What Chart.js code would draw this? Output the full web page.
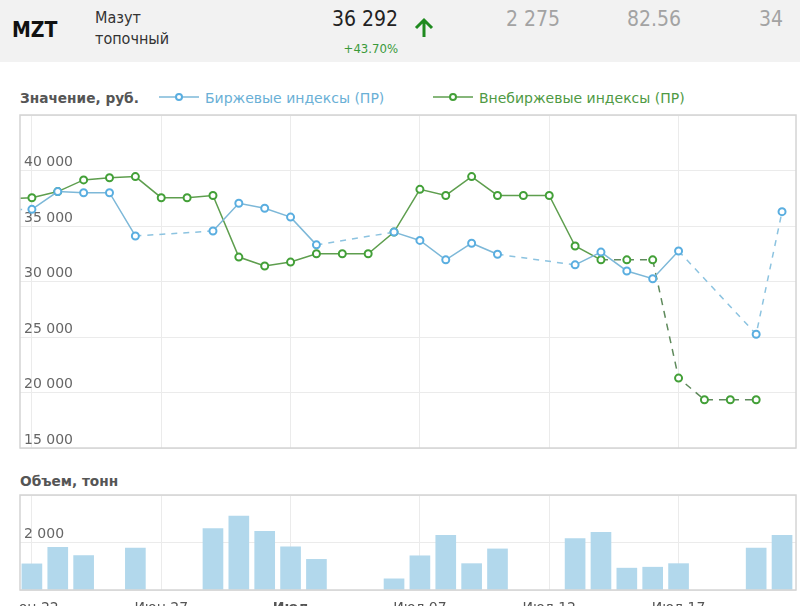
<!DOCTYPE html>
<html lang="ru">
<head>
<meta charset="utf-8">
<title>MZT – Мазут топочный</title>
<script src="https://cdn.jsdelivr.net/npm/chart.js@4.4.1/dist/chart.umd.min.js"></script>
<style>
  html, body { margin: 0; padding: 0; }
  body { width: 800px; height: 606px; overflow: hidden; position: relative; background: #fff;
         font-family: "DejaVu Sans", Verdana, sans-serif; }
  .head { position: absolute; left: 0; top: 0; width: 800px; height: 62px; background: #f2f2f2; }
  .head div { position: absolute; white-space: nowrap; font-family: "Liberation Sans Narrow", "DejaVu Sans Condensed", Roboto, sans-serif; }
  .ticker { left: 12px; top: 20px; font-size: 21px; line-height: 1; font-weight: bold; color: #111; }
  .name { left: 95px; top: 7px; font-size: 16px; line-height: 21px; color: #333; }
  .price { right: 402px; top: 9px; font-size: 21px; line-height: 1; color: #222; }
  .chg { right: 402px; top: 42px; font-size: 13px; line-height: 1; color: #3a9a3a; }
  .arrow { left: 413px; top: 17px; }
  .grey { top: 9px; font-size: 21px; line-height: 1; color: #a3a3a3; }
  .label { position: absolute; white-space: nowrap; line-height: 1; }
  .ttl { font-size: 13.7px; font-weight: bold; color: #555; }
  .leg { font-size: 14px; }
  .leg svg { vertical-align: middle; margin-right: 6px; position: relative; top: -2px; }
  .box { position: absolute; }
</style>
</head>
<body>

<div class="head">
  <div class="ticker">MZT</div>
  <div class="name">Мазут<br>топочный</div>
  <div class="price">36 292</div>
  <div class="chg">+43.70%</div>
  <div class="arrow">
    <svg width="22" height="21" viewBox="0 0 22 21">
      <path d="M11 20 V3 M3 11 L11 3 L19 11" fill="none" stroke="#1f8a1f" stroke-width="3"/>
    </svg>
  </div>
  <div class="grey" style="right:240px">2 275</div>
  <div class="grey" style="right:119px">82.56</div>
  <div class="grey" style="right:17px">34</div>
</div>

<div class="label ttl" style="left:20px; top:92px">Значение, руб.</div>
<div class="label leg" style="left:159px; top:91px; color:#6ab0d6">
  <svg width="40" height="10"><line x1="0" y1="5" x2="40" y2="5" stroke="#7db8d8" stroke-width="1.5"/><circle cx="20" cy="5" r="3" fill="#fff" stroke="#5aaee0" stroke-width="2"/></svg>Биржевые индексы (ПР)
</div>
<div class="label leg" style="left:433px; top:91px; color:#4f9a44">
  <svg width="40" height="10"><line x1="0" y1="5" x2="40" y2="5" stroke="#5e9e4e" stroke-width="1.5"/><circle cx="20" cy="5" r="3" fill="#fff" stroke="#43a038" stroke-width="2"/></svg>Внебиржевые индексы (ПР)
</div>

<div class="box" style="left:19px; top:114px; width:778px; height:335px"><canvas id="chart-price"></canvas></div>

<div class="label ttl" style="left:20px; top:475px">Объем, тонн</div>
<div class="box" style="left:19px; top:494px; width:778px; height:126px"><canvas id="chart-volume"></canvas></div>

<script>
/* ---- Données ---- */
const days = [-2, -1, 0, 1, 2, 3, 4, 5, 6, 7, 8, 9, 10, 11, 12, 13, 14, 15,
              16, 17, 18, 19, 20, 21, 22, 23, 24, 25, 26, 27, 28, 29];

const birzha = [36400, null, 36500, 38100, 38000, 38000, 34100, null, null, 34550,
                37050, 36600, 35800, 33300, null, null, 34450, 33700, 31950, 33450,
                32450, null, null, 31500, 32650, 30950, 30250, 32750, null, null,
                25250, 36292];

const vnebirzha = [null, 37450, 37550, 38100, 39150, 39350, 39450, 37550, 37550, 37750,
                   32200, 31400, 31750, 32500, 32500, 32500, 34450, 38300, 37750, 39450,
                   37750, 37750, 37750, 33200, 31950, 31950, 31950, 21300, 19350, 19350,
                   19350, null];

const volume = [null, null, 1100, 1800, 1450, null, 1770, null, null, 2590,
                3110, 2470, 1820, 1290, null, null, 470, 1440, 2300, 1110,
                1730, null, null, 2160, 2430, 920, 960, 1110, null, null,
                1770, 2300];

// segments en pointillés (jour de départ), en plus des trous de données
const birzhaDash    = [28];
const vnebirzhaDash = [22, 23, 24, 25, 26, 27];

const tickDays   = [0, 5, 10, 15, 20, 25];
const tickLabels = ['Июн 22', 'Июн 27', 'Июл', 'Июл 07', 'Июл 12', 'Июл 17'];

const X_MIN = -0.46, X_MAX = 29.54;

/* ---- Helpers ---- */
const fmt = v => String(v).replace(/\B(?=(\d{3})+(?!\d))/g, ' ');
const pts = arr => days.map((d, i) => ({ x: d, y: arr[i] })).filter(p => p.y !== null);

function isDashed(list) {
  return ctx => {
    const data = ctx.chart.data.datasets[ctx.datasetIndex].data;
    const a = data[ctx.p0DataIndex], b = data[ctx.p1DataIndex];
    return b.x - a.x > 1 || list.includes(a.x);
  };
}

function noPadding(scale) {
  scale.paddingLeft = 0; scale.paddingRight = 0;
  scale.paddingTop = 0;  scale.paddingBottom = 0;
}

const boxPlugin = {
  id: 'plotBox',
  afterDatasetsDraw(chart) {
    const { ctx, chartArea: a } = chart;
    ctx.save();
    ctx.strokeStyle = '#d4d4d4';
    ctx.lineWidth = 1.5;
    ctx.strokeRect(a.left, a.top, a.right - a.left, a.bottom - a.top);
    ctx.restore();
  },
};

const gridColor = '#ebebeb';
const tickFont  = { family: '"DejaVu Sans", Verdana, sans-serif', size: 14 };

function xScale(showLabels) {
  return {
    type: 'linear',
    min: X_MIN,
    max: X_MAX,
    offset: false,
    afterBuildTicks: s => { s.ticks = tickDays.map(v => ({ value: v })); },
    afterFit: s => { noPadding(s); s.height = showLabels ? 30 : 0; },
    grid: { color: gridColor, drawTicks: false, offset: false },
    border: { display: false },
    ticks: {
      display: showLabels,
      padding: 10,
      color: '#555',
      maxRotation: 0,
      autoSkip: false,
      font: ctx => ({ ...tickFont, weight: tickDays[ctx.index] === 10 ? 'bold' : 'normal' }),
      callback: v => tickLabels[tickDays.indexOf(v)] ?? '',
    },
  };
}

function yScale(max, step) {
  return {
    min: 0,
    max,
    afterFit: s => { noPadding(s); s.width = 0; },
    grid: { color: gridColor, drawTicks: false },
    border: { display: false },
    ticks: {
      stepSize: step,
      mirror: true,
      padding: 4,
      labelOffset: -8,
      color: '#666',
      font: tickFont,
      callback: v => (v === max ? '' : fmt(v)),
    },
  };
}

function lineDataset(label, values, dashList, c) {
  const dashed = isDashed(dashList);
  return {
    label,
    data: pts(values),
    borderColor: c.line,
    borderWidth: 1.5,
    pointBackgroundColor: '#fff',
    pointBorderColor: c.point,
    pointBorderWidth: 2,
    pointRadius: 3.5,
    tension: 0,
    segment: {
      borderDash: ctx => dashed(ctx) ? c.dash : undefined,
      borderColor: ctx => dashed(ctx) ? c.dashColor : undefined,
    },
  };
}

/* ---- Graphique : cours ---- */
const yPrice = yScale(45000, 5000);
yPrice.min = 15000;

new Chart(document.getElementById('chart-price'), {
  type: 'line',
  data: {
    datasets: [
      lineDataset('Биржевые индексы (ПР)', birzha, birzhaDash,
        { line: '#7db8d8', point: '#5aaee0', dash: [6, 6], dashColor: '#8cc3e0' }),
      lineDataset('Внебиржевые индексы (ПР)', vnebirzha, vnebirzhaDash,
        { line: '#5e9e4e', point: '#43a038', dash: [7, 6], dashColor: '#5f8a5c' }),
    ],
  },
  options: {
    responsive: true,
    maintainAspectRatio: false,
    animation: false,
    layout: { padding: 1, autoPadding: false },
    plugins: { legend: { display: false }, tooltip: { enabled: false } },
    scales: { x: xScale(false), y: yPrice },
  },
  plugins: [boxPlugin],
});

/* ---- Graphique : volume ---- */
new Chart(document.getElementById('chart-volume'), {
  type: 'bar',
  data: {
    datasets: [{
      label: 'Объем, тонн',
      data: pts(volume),
      backgroundColor: '#b2d8ec',
      barThickness: 20,
    }],
  },
  options: {
    responsive: true,
    maintainAspectRatio: false,
    animation: false,
    layout: { padding: { top: 1, left: 1, right: 1, bottom: 0 }, autoPadding: false },
    plugins: { legend: { display: false }, tooltip: { enabled: false } },
    scales: { x: xScale(true), y: yScale(4000, 2000) },
  },
  plugins: [boxPlugin],
});
</script>
</body>
</html>
